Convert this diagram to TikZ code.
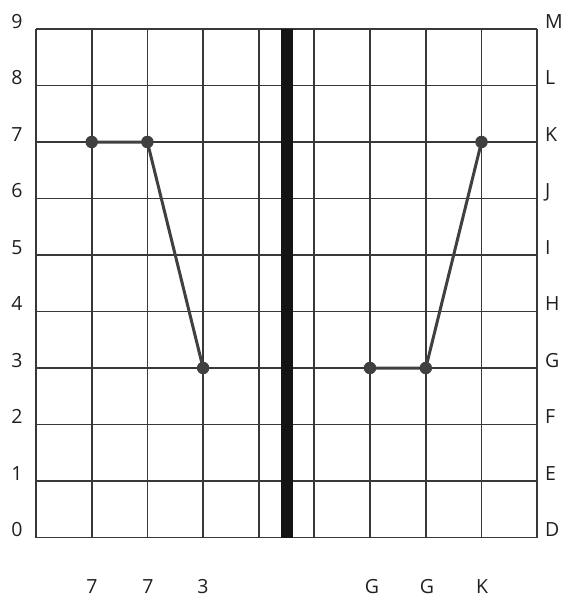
\documentclass[tikz,border=0pt]{standalone}
\usepackage{fontspec}
\setmainfont{Open Sans}
\tikzset{
  gridline/.style={draw=black!78, line width=1.8pt},
  barline/.style={draw=black!92, line width=12pt},
  dataline/.style={draw=black!75, line width=3pt},
  dot/.style={circle, fill=black!75, inner sep=0pt, minimum size=12.5pt},
  lbl/.style={font=\fontsize{19.5}{21}\selectfont, text=black!88, inner sep=0pt}
}
\begin{document}
\begin{tikzpicture}[x=1pt,y=-1pt]
\useasboundingbox (0,0) rectangle (563,598);
% vertical grid lines
\foreach \x in {36,91.7,147.4,203.1,258.8,314.3,370,425.8,481.5,537.3}
  \draw[gridline] (\x,29) -- (\x,537.5);
% horizontal grid lines
\foreach \k in {0,...,9}
  \draw[gridline] (36,29+56.5*\k) -- (537.3,29+56.5*\k);
% central bar
\draw[barline] (286.6,29) -- (286.6,537.5);
% left labels
\foreach \v [count=\i from 0] in {9,8,7,6,5,4,3,2,1,0}
  \node[lbl, anchor=base] (l\i) at (17,28+56.5*\i) {\v};
% right labels
\foreach \v [count=\i from 0] in {M,L,K,J,I,H,G,F,E,D}
  \node[lbl, anchor=base west] (r\i) at (545,28+56.5*\i) {\v};
% bottom labels
\node[lbl, anchor=base] (b1) at (92,593) {7};
\node[lbl, anchor=base] (b2) at (148,593) {7};
\node[lbl, anchor=base] (b3) at (203,593) {3};
\node[lbl, anchor=base] (b4) at (372,593) {G};
\node[lbl, anchor=base] (b5) at (427,593) {G};
\node[lbl, anchor=base] (b6) at (482,593) {K};
% data points
\node[dot] (p1) at (91.7,142) {};
\node[dot] (p2) at (147.4,142) {};
\node[dot] (p3) at (203.1,368) {};
\node[dot] (q1) at (370,368) {};
\node[dot] (q2) at (425.8,368) {};
\node[dot] (q3) at (481.5,142) {};
\draw[dataline] (p1.center) -- (p2.center) -- (p3.center);
\draw[dataline] (q1.center) -- (q2.center) -- (q3.center);
\end{tikzpicture}
\end{document}
